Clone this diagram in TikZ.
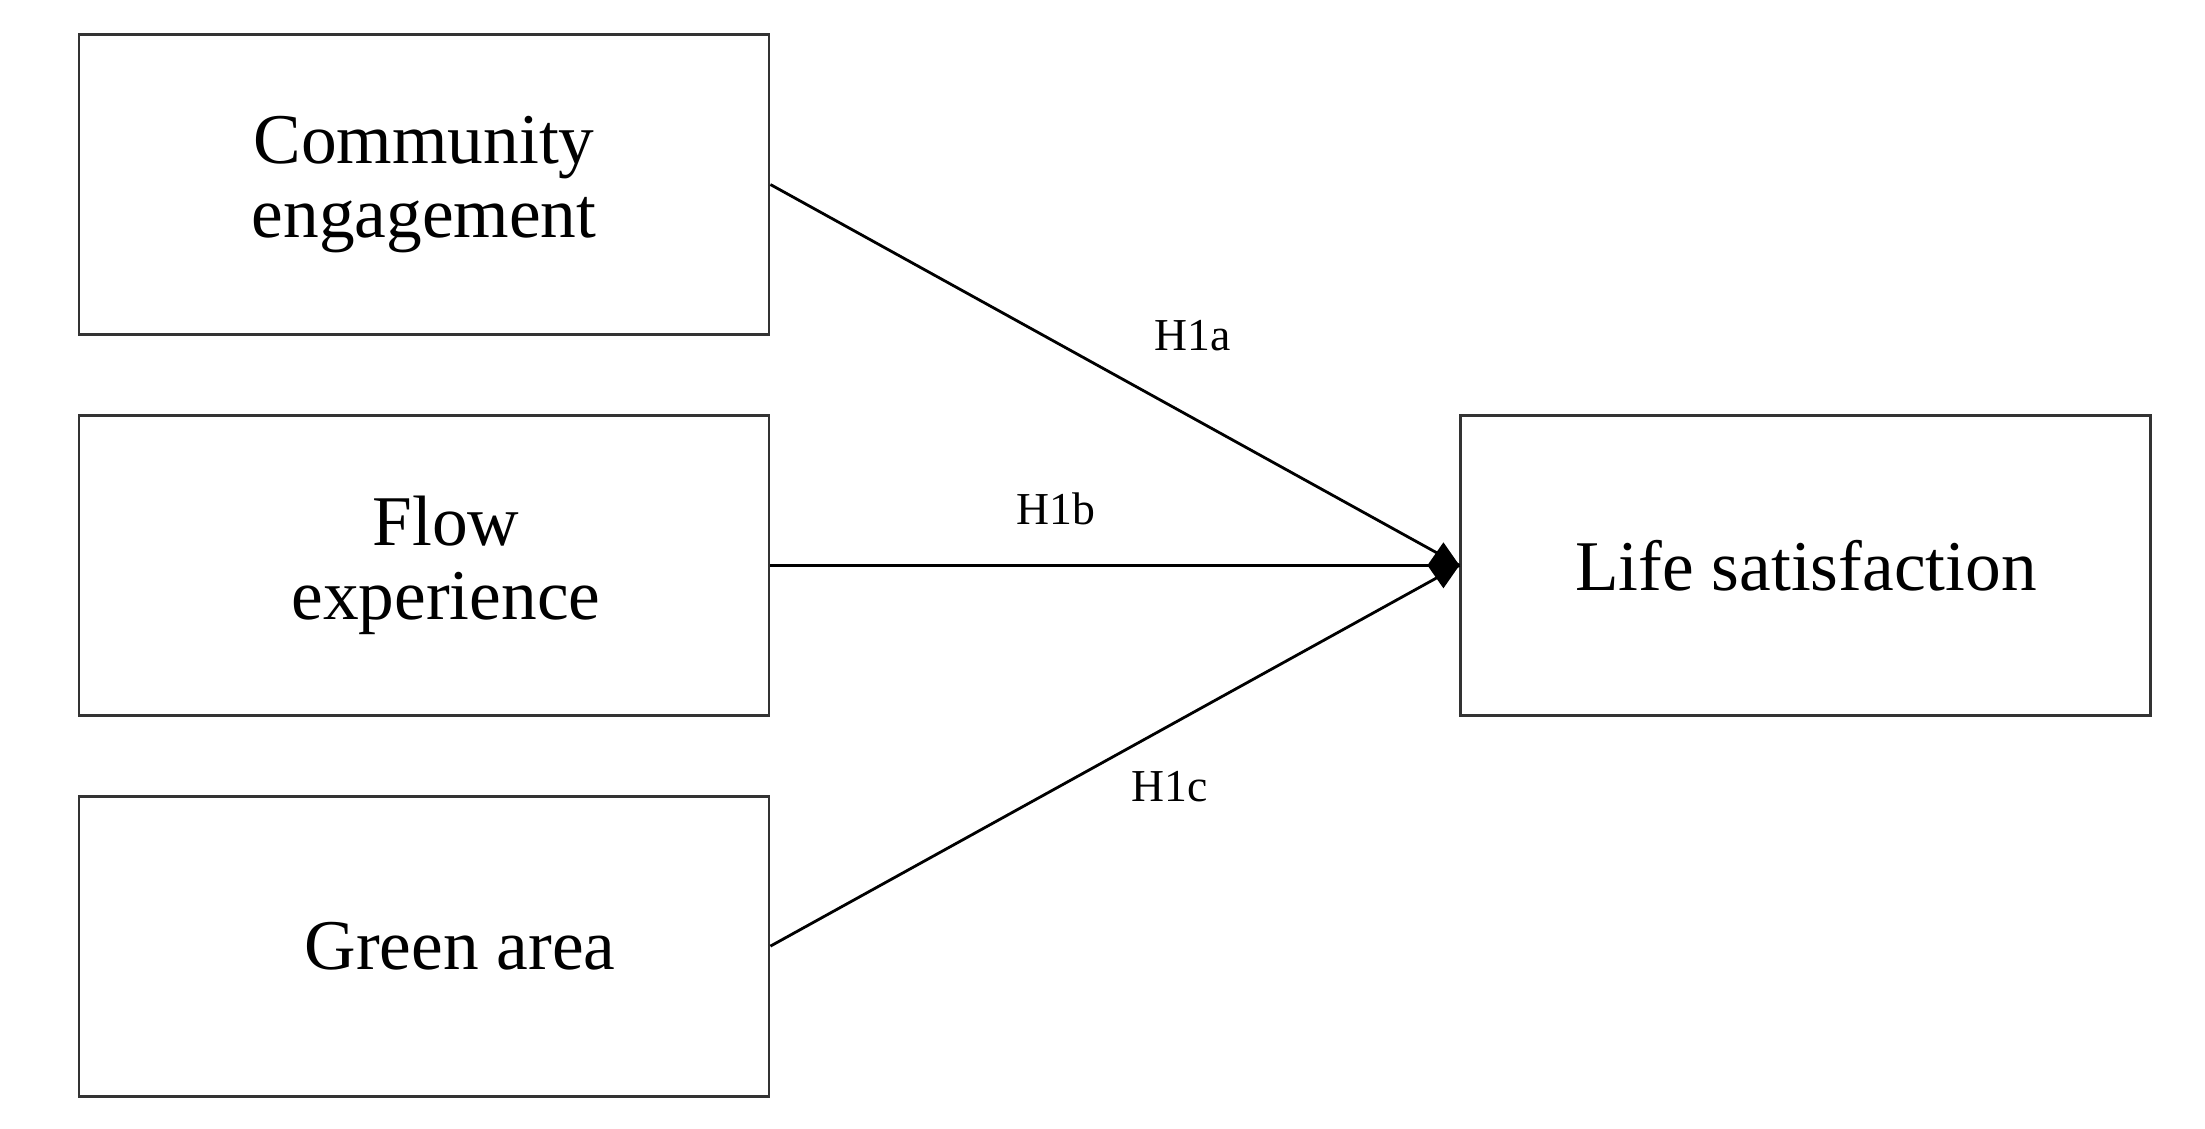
\documentclass[tikz,border=0pt]{standalone}
\usepackage{fontspec}
\setmainfont{Liberation Serif}
\usepackage{tikz}
\usetikzlibrary{positioning,arrows.meta}

\tikzset{
    varbox/.style={draw=black!80, line width=0.8pt, minimum width=6.9cm,
        minimum height=3.0cm, align=center, inner sep=0pt,
        font=\fontsize{20.3}{21.3}\selectfont},
    hyplabel/.style={font=\fontsize{13}{15}\selectfont},
    path/.style={line width=0.8pt}
}

\begin{document}
\begin{tikzpicture}
    % Fix the page to the size of the reference
    \useasboundingbox (0,0) rectangle (22.05,-11.28);

    % Predictor boxes on the left
    \node[varbox] (ce) at (4.24,-1.845) {Community\\engagement};
    \node[varbox, below=0.78cm of ce] (fe)
        {\hspace*{0.44cm}Flow\\\hspace*{0.44cm}experience};
    \node[varbox, below=0.78cm of fe] (ga) {\hspace*{0.72cm}Green area};

    % Outcome box on the right
    \node[varbox, right=6.89cm of fe] (ls) {Life satisfaction};

    % Paths into life satisfaction
    \draw[path] (ce.east) -- (ls.west);
    \draw[path, -{Diamond[length=0.32cm, width=0.46cm]}] (fe.east) -- (ls.west);
    \draw[path] (ga.east) -- (ls.west);

    % Hypothesis labels
    \node[hyplabel] (h1a) at (11.93,-3.36) {H1a};
    \node[hyplabel] (h1b) at (10.56,-5.09) {H1b};
    \node[hyplabel] (h1c) at (11.70,-7.87) {H1c};
\end{tikzpicture}
\end{document}
